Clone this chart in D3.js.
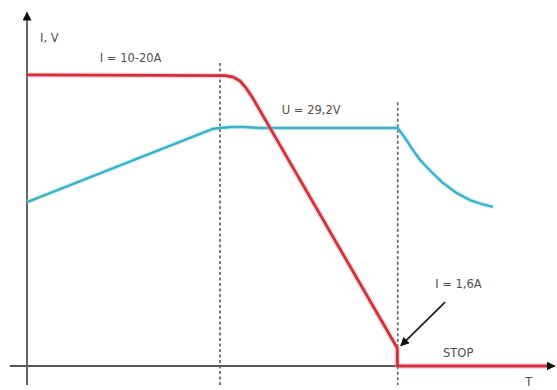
<!DOCTYPE html>
<html><head><meta charset="utf-8">
<script src="https://cdn.jsdelivr.net/npm/d3@7/dist/d3.min.js"></script>
<style>body{margin:0;background:#fff}svg{display:block}text{font-family:"DejaVu Sans",sans-serif;fill:#505050}</style>
</head><body>
<script>
// Current curve I (time, value)
const currentT = [0, 38.1, 39.6, 41.0, 42.1, 43.3, 44.4, 71.2, 71.2, 100];
const currentV = [85.6, 85.4, 85.0, 83.8, 81.8, 79.1, 76.2, 5.3, 0, 0];
// Voltage curve U
const voltageT = [0, 35.6, 37.1, 39.4, 41.7, 44.8, 71.3, 72.7, 74.0, 75.6, 77.5, 80.0, 82.5, 85.2, 87.5, 89.6];
const voltageV = [48.2, 69.7, 70.0, 70.3, 70.3, 70.0, 70.0, 67.1, 64.0, 60.6, 57.5, 53.8, 51.0, 48.8, 47.6, 46.8];
// Phase boundaries
const phaseT = [37.1, 71.3];
const phaseTop = [89.1, 77.6];
const labels = ["I, V", "I = 10-20A", "U = 29,2V", "I = 1,6A", "STOP", "T"];

const W = 557, H = 390;
const svg = d3.select("body").append("svg").attr("width", W).attr("height", H);
const x = d3.scaleLinear().domain([0, 100]).range([27, 547]);
const y = d3.scaleLinear().domain([0, 100]).range([366, 26]);

const defs = svg.append("defs");
defs.append("marker").attr("id", "ah").attr("viewBox", "0 0 10 10").attr("refX", 9).attr("refY", 5)
  .attr("markerWidth", 5).attr("markerHeight", 5).attr("markerUnits", "strokeWidth").attr("orient", "auto")
  .append("path").attr("d", "M0,0L10,5L0,10z").attr("fill", "#111");
defs.append("marker").attr("id", "axh").attr("viewBox", "0 0 10 10").attr("refX", 9).attr("refY", 5)
  .attr("markerWidth", 4.5).attr("markerHeight", 4.5).attr("markerUnits", "strokeWidth").attr("orient", "auto")
  .append("path").attr("d", "M0,0L10,5L0,10z").attr("fill", "#111");

// axes
svg.append("line").attr("x1", x(0)).attr("x2", x(0)).attr("y1", y(-5.6)).attr("y2", y(104))
  .attr("stroke", "#666").attr("stroke-width", 2).attr("marker-end", "url(#axh)");
svg.append("line").attr("x1", x(-3.3)).attr("x2", x(101.5)).attr("y1", y(0)).attr("y2", y(0))
  .attr("stroke", "#555").attr("stroke-width", 2).attr("marker-end", "url(#axh)");

// dashed phase lines
phaseT.forEach((t, i) => {
  svg.append("line").attr("x1", x(t)).attr("x2", x(t)).attr("y1", y(phaseTop[i])).attr("y2", y(-5.6))
    .attr("stroke", "#666").attr("stroke-width", 1.7).attr("stroke-dasharray", "3,2.5");
});

const line = d3.line().x(d => x(d[0])).y(d => y(d[1]));
const vData = voltageT.map((t, i) => [t, voltageV[i]]);
const cData = currentT.map((t, i) => [t, currentV[i]]);

svg.append("path").attr("d", line(vData)).attr("fill", "none").attr("stroke", "#8fdcec").attr("stroke-width", 5).attr("opacity", 0.35).attr("stroke-linejoin", "round");
svg.append("path").attr("d", line(vData)).attr("fill", "none").attr("stroke", "#3cb0c6").attr("stroke-width", 2.4).attr("stroke-linejoin", "round");

svg.append("path").attr("d", line(cData)).attr("fill", "none").attr("stroke", "#f3a3ab").attr("stroke-width", 5.5).attr("opacity", 0.45).attr("stroke-linejoin", "round");
svg.append("path").attr("d", line(cData)).attr("fill", "none").attr("stroke", "#cf303c").attr("stroke-width", 2.8).attr("stroke-linejoin", "round");

// annotation arrow
svg.append("line").attr("x1", x(80.4)).attr("y1", y(18.8)).attr("x2", x(71.9)).attr("y2", y(6.0))
  .attr("stroke", "#222").attr("stroke-width", 1.8).attr("marker-end", "url(#ah)");

// labels
const fs = 11.5;
svg.append("text").attr("x", x(2.5)).attr("y", y(95.2)).attr("font-size", fs).text(labels[0]);
svg.append("text").attr("x", x(14)).attr("y", y(89.4)).attr("font-size", fs).text(labels[1]);
svg.append("text").attr("x", x(49)).attr("y", y(74.1)).attr("font-size", fs).text(labels[2]);
svg.append("text").attr("x", x(78.5)).attr("y", y(22.9)).attr("font-size", fs).text(labels[3]);
svg.append("text").attr("x", x(80)).attr("y", y(2.7)).attr("font-size", fs).text(labels[4]);
svg.append("text").attr("x", x(95.8)).attr("y", y(-5.9)).attr("font-size", fs).text(labels[5]);
</script>
</body></html>
